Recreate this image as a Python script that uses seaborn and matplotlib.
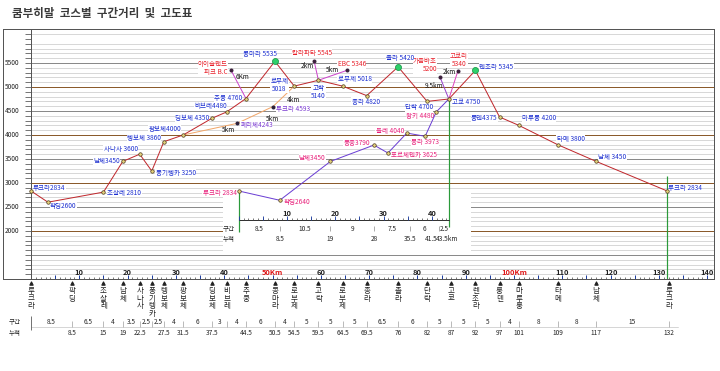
import numpy as np
import matplotlib
matplotlib.use("Agg")
import matplotlib.pyplot as plt
import matplotlib.transforms as mtransforms
from matplotlib.patches import Rectangle
import seaborn as sns

# ---- 데이터 ----
# 메인 코스: 그래프 위 점 위치(km)와 고도(m)
route_km = [0, 3.5, 15, 19, 22.5, 25, 27.5, 31.5, 37.5, 40.5, 44.5, 50.5, 54.5,
            59.5, 64.5, 69.5, 76, 82, 86.5, 92, 97, 101, 109, 117, 131.7]
route_elev = [2834, 2600, 2810, 3450, 3600, 3250, 3860, 4000, 4350, 4480, 4760, 5535,
              5018, 5140, 5018, 4820, 5420, 4700, 4750, 5345, 4375, 4200, 3800, 3450, 2834]
route_labels = ["루크라2834", "팍딩2600", "조살레 2810", "남체3450", "사나사 3600",
                "퐁기텡카 3250", "텡보체 3860", "팡보체4000", "딩보체 4350", "비브레4480",
                "추쿵 4760", "콩마라 5535", "로부제\n5018", "고락\n5140", "로부제 5018",
                "종라 4820", "촐라 5420", "단락 4700", "고쿄 4750", "렌조라 5345",
                "룽덴4375", "마루룽 4200", "타메 3800", "남체 3450", "루크라 2834"]
pass_names = ["콩마라", "촐라", "렌조라"]
pass_idx = [11, 16, 19]

# 아래쪽 지명 / 구간거리 / 누적거리
stations = ["루크라", "팍딩", "조살레", "남체", "사나사", "퐁기텡카", "텡보체", "팡보체",
            "딩보체", "비브레", "추쿵", "콩마라", "로부제", "고락", "로부제", "종라", "촐라",
            "단락", "고쿄", "렌조라", "룽덴", "마루룽", "타메", "남체", "루크라"]
cum_km = [0, 8.5, 15, 19, 22.5, 25, 27.5, 31.5, 37.5, 40.5, 44.5, 50.5, 54.5, 59.5,
          64.5, 69.5, 76, 82, 87, 92, 97, 101, 109, 117, 132]
section_km = [8.5, 6.5, 4, 3.5, 2.5, 2.5, 4, 6, 3, 4, 6, 4, 5, 5, 5, 6.5, 6, 5, 5, 5,
              4, 8, 8, 15]
cum_labels = ["", "8.5", "15", "19", "22.5", "", "27.5", "31.5", "37.5", "", "44.5",
              "50.5", "54.5", "59.5", "64.5", "69.5", "76", "82", "87", "92", "97",
              "101", "109", "117", "132"]

# 팡보체 -> 페리체 -> 투크라 -> 로부제 (주황선)
pheriche_km = [31.5, 42.7, 50.1, 54.5]
pheriche_elev = [4000, 4243, 4593, 5018]
pheriche_labels = ["", "페리체4243", "투크라 4593", ""]
pheriche_dist = ["5km", "5km", "4km"]

# 곁가지 봉우리
branch_from = [10, 13, 13, 18, 18]          # route index
branch_km = [41.4, 58.6, 65.4, 84.7, 88.4]
branch_elev = [5350, 5545, 5346, 5200, 5340]
branch_names = ["아이슬랜드\n피크 B.C", "칼라파타 5545", "EBC 5346", "가즘바초\n5200", "고쿄리\n5340"]
branch_dist = ["6Km", "2km", "5km", "9.5km", "2km"]

# 루크라 -> 고쿄 직행 코스 (삽입 그림)
inset_km = [0, 8.5, 19, 28, 30.9, 34.8, 38.6, 40.9, 43.5]
inset_elev = [2834, 2640, 3450, 3790, 3625, 4040, 3973, 4480, 4750]
inset_labels = ["루크라 2834", "팍딩2640", "남체3450", "퐁중3790", "포르체텐카 3625",
                "돌레 4040", "몽라 3973", "왕키 4480", ""]
inset_section = [8.5, 10.5, 9, 7.5, 6, 2.5]
inset_cum = [8.5, 19, 28, 35.5, 41.5, 43.5]
inset_cum_labels = ["8.5", "19", "28", "35.5", "41.5", "43.5km"]
INSET_OFF = 43.0

# ---- 스타일 ----
sns.set_theme(style="white")
plt.rcParams["font.family"] = ["Noto Sans CJK KR", "DejaVu Sans"]

BLUE = "#1c2fd0"
RED = "#e8202a"
PINK = "#e8207a"
PURPLE = "#7a3ad0"
LINE_RED = "#c0282d"
GREEN = "#2a9a3a"
box = dict(boxstyle="square,pad=0.05", fc="white", ec="none")

fig = plt.figure(figsize=(10, 371 / 72), dpi=72)
ax = fig.add_axes([3 / 720, 92 / 371, 711 / 720, 250 / 371])
ax.set_xlim(-5.80, 141.4)
ax.set_ylim(1000, 6208)
for s in ax.spines.values():
    s.set_color("#555555")
    s.set_linewidth(1)
ax.set_yticks([])

# 격자선
light = [e for e in range(1100, 6201, 100) if e % 500 != 0]
ax.hlines(light, 0, 141.4, color="#cfcfcf", lw=0.8, zorder=1)
ax.hlines([1500, 2500, 3500, 4500, 5500], 0, 141.4, color="#8a8a8a", lw=1, zorder=1)
ax.hlines([2000, 3000, 4000, 5000], 0, 141.4, color="#8b5a2b", lw=1, zorder=1)

# y 축
ax.axvline(0, color="#555555", lw=1, zorder=2)
ax.hlines(range(1100, 6201, 100), -1.25, 0, color="#555555", lw=0.8, zorder=2)
for e in range(2000, 5501, 500):
    ax.text(-3.9, e, str(e), ha="center", va="center", fontsize=6.5, color="#222222")

# x 축 눈금
ax.set_xticks(np.arange(0, 141, 5))
ax.set_xticks(np.arange(0, 141, 1), minor=True)
ax.tick_params(axis="x", which="major", direction="in", length=4, width=1,
               color="#1f3f9f", labelbottom=False, bottom=True)
ax.tick_params(axis="x", which="minor", direction="in", length=2, width=0.7,
               color="#444444", bottom=True)
for k in range(10, 141, 10):
    if k in (50, 100):
        ax.text(k, 1125, f"{k}Km", ha="center", va="center", fontsize=7.5,
                fontweight="bold", color="#e01818")
    else:
        ax.text(k, 1125, str(k), ha="center", va="center", fontsize=7.5,
                fontweight="bold", color="#222222")

# 삽입 그림 배경
ax.add_patch(Rectangle((39.76, 1550), 91.1 - 39.76, 2850 - 1550, fc="white",
                       ec="none", zorder=1.5))

# 녹색 세로선
ax.vlines(INSET_OFF + inset_km[0], 1980, inset_elev[0], color=GREEN, lw=1.2, zorder=3)
ax.vlines(route_km[18], 2090, route_elev[18], color=GREEN, lw=1.2, zorder=3)
ax.vlines(route_km[-1], 1000, 3150, color=GREEN, lw=1.2, zorder=3)

# 주황선 (페리체 경유)
sns.lineplot(x=pheriche_km, y=pheriche_elev, ax=ax, color="#f2a76a", lw=1,
             estimator=None, sort=False, zorder=4)
ax.plot(pheriche_km[1:3], pheriche_elev[1:3], "o", ms=3, color="#2a1f3a", zorder=6)
for k, e, lab in zip(pheriche_km, pheriche_elev, pheriche_labels):
    if lab:
        ax.annotate(lab, (k, e), xytext=(3, -2), textcoords="offset points",
                    ha="left", va="center", fontsize=6.5, color=PURPLE, bbox=box, zorder=4)
dist_off = [(-9, -7), (-1, -12), (-1, -14)]
for i, lab in enumerate(pheriche_dist):
    ax.annotate(lab, (pheriche_km[i + 1], pheriche_elev[i + 1]), xytext=dist_off[i],
                textcoords="offset points", ha="center", va="center", fontsize=6.5,
                color="#111111", zorder=4)

# 곁가지
branch_colors = ["#cc44cc", "#cc44cc", "#cc44cc", "#9944cc", "#e044c0"]
name_style = [(-3, 2.5, "right"), (-2, 7.5, "center"), (5, 6, "center"),
              (-3, 12, "right"), (1, 11, "center")]
dist_style = [(11.5, -7), (-7, -5), (-14.5, 0), (-6.5, -8.6), (-8.5, -1.3)]
for i in range(len(branch_km)):
    j = branch_from[i]
    sns.lineplot(x=[route_km[j], branch_km[i]], y=[route_elev[j], branch_elev[i]],
                 ax=ax, color=branch_colors[i], lw=1, estimator=None, sort=False, zorder=4)
    ax.plot(branch_km[i], branch_elev[i], "o", ms=3, color="#3a1f3a", zorder=6)
    dx, dy, ha = name_style[i]
    ax.annotate(branch_names[i], (branch_km[i], branch_elev[i]), xytext=(dx, dy),
                textcoords="offset points", ha=ha, va="center", multialignment=ha,
                fontsize=6.5, color=RED, bbox=box, linespacing=1.0, zorder=4)
    dx, dy = dist_style[i]
    ax.annotate(branch_dist[i], (branch_km[i], branch_elev[i]), xytext=(dx, dy),
                textcoords="offset points", ha="center", va="center", fontsize=6.5,
                color="#111111", zorder=4)

# 메인 코스
sns.lineplot(x=route_km, y=route_elev, ax=ax, color=LINE_RED, lw=1,
             estimator=None, sort=False, zorder=5)
ax.plot(route_km, route_elev, "o", ms=3.5, mfc="#e6d27a", mec="#4a3a20", mew=0.7, zorder=6)
ax.plot([route_km[i] for i in pass_idx], [route_elev[i] for i in pass_idx], "o", ms=6,
        mfc="#2fd06a", mec="#1a9a4a", mew=0.8, zorder=7)
main_style = [(2, 3, "left"), (2, -4, "left"), (4, -1, "left"), (-3, 0, "right"),
              (-2, 5, "right"), (4, -2, "left"), (-3, 4, "right"), (-2, 6, "right"),
              (-3, 0, "right"), (0, 6, "right"), (-4, 1, "right"), (2, 7, "right"),
              (-6, 1, "right"), (0, -12, "center"), (-5, 7, "left"), (-1, -6, "center"),
              (2, 9, "center"), (-8, -6, "center"), (3, -3, "left"), (4, 3, "left"),
              (-2, -1, "right"), (3, 7, "left"), (-1, 6, "left"), (2, 4, "left"),
              (1, 3, "left")]
for k, e, lab, (dx, dy, ha) in zip(route_km, route_elev, route_labels, main_style):
    ax.annotate(lab, (k, e), xytext=(dx, dy), textcoords="offset points", ha=ha,
                va="center", multialignment="center", fontsize=6.5, color=BLUE,
                bbox=box, linespacing=1.0, zorder=4)

# 삽입 코스 (루크라 -> 고쿄)
inset_x = [INSET_OFF + k for k in inset_km]
sns.lineplot(x=inset_x, y=inset_elev, ax=ax, color="#6b3fd4", lw=1,
             estimator=None, sort=False, zorder=5)
ax.plot(inset_x[:-1], inset_elev[:-1], "o", ms=3.5, mfc="#e6d27a", mec="#4a3a20",
        mew=0.7, zorder=6)
inset_style = [(-2, -2, "right"), (4, -2, "left"), (-5, 3, "right"), (-4, 2, "right"),
               (3, -2, "left"), (-3, 2, "right"), (0, -6, "center"), (-2, -4, "right"),
               (0, 0, "left")]
for k, e, lab, (dx, dy, ha) in zip(inset_x, inset_elev, inset_labels, inset_style):
    if lab:
        ax.annotate(lab, (k, e), xytext=(dx, dy), textcoords="offset points", ha=ha,
                    va="center", fontsize=6.5, color=PINK, bbox=box, zorder=4)

# 삽입 그림의 축
AX_E = 2230
ax.plot([INSET_OFF, INSET_OFF + inset_cum[-1]], [AX_E, AX_E], color="#333333", lw=1, zorder=3)
ax.vlines(INSET_OFF + np.arange(0, 44, 1), AX_E, AX_E + 45, color="#444444", lw=0.7, zorder=3)
ax.vlines(INSET_OFF + np.arange(0, 44, 5), AX_E, AX_E + 85, color="#1f3f9f", lw=0.9, zorder=3)
for k in range(10, 41, 10):
    ax.text(INSET_OFF + k, 2370, str(k), ha="center", va="center", fontsize=7.5,
            fontweight="bold", color="#222222", zorder=3)
# 누적 라벨 위치 보정 (끝부분이 붙어 있음)
cum_nudge = [(0, "center"), (0, "center"), (0, "center"), (0, "center"),
             (-1.6, "center"), (-2.6, "left")]
prev = 0
for sec, c, lab, (nx, ha) in zip(inset_section, inset_cum, inset_cum_labels, cum_nudge):
    ax.text(INSET_OFF + (prev + c) / 2, 2042, f"{sec:g}", ha="center", va="center",
            fontsize=6.5, color="#222222", zorder=3)
    ax.text(INSET_OFF + c + nx, 1834, lab, ha=ha, va="center", fontsize=6.5,
            color="#222222", zorder=3)
    prev = c
ax.vlines([INSET_OFF + c for c in inset_cum[:-1]], 1990, 2100, color="#999999", lw=0.8, zorder=3)
ax.text(41.0, 2042, "구간", ha="center", va="center", fontsize=6.5, color="#222222", zorder=3)
ax.text(41.0, 1834, "누적", ha="center", va="center", fontsize=6.5, color="#222222", zorder=3)

# 아래쪽 지명, 구간, 누적
blend = mtransforms.blended_transform_factory(ax.transData, fig.transFigure)
ax.plot(cum_km, [0.2372] * len(cum_km), ls="none", marker="^", ms=3.5, color="#222222",
        transform=blend, clip_on=False)
for k, name in zip(cum_km, stations):
    ax.text(k, 0.2264, "\n".join(name), transform=blend, ha="center", va="top",
            fontsize=7.5, linespacing=0.95, color="#222222")
for i, sec in enumerate(section_km):
    ax.text((cum_km[i] + cum_km[i + 1]) / 2, 0.132, f"{sec:g}", transform=blend,
            ha="center", va="center", fontsize=6.5, color="#222222")
for k, lab in zip(cum_km, cum_labels):
    if lab:
        ax.text(k, 0.1024, lab, transform=blend, ha="center", va="center",
                fontsize=6.5, color="#222222")
ax.plot([0, 134], [0.1186, 0.1186], transform=blend, color="#cccccc", lw=0.8, clip_on=False)
ax.vlines(cum_km[1:], 0.1186, 0.135, transform=blend, color="#aaaaaa", lw=0.8, clip_on=False)
ax.vlines([0], 0.110, 0.148, transform=blend, color="#666666", lw=0.9, clip_on=False)
ax.text(-3.3, 0.132, "구간", transform=blend, ha="center", va="center", fontsize=6.5, color="#222222")
ax.text(-3.3, 0.1024, "누적", transform=blend, ha="center", va="center", fontsize=6.5, color="#222222")

fig.text(12 / 720, 1 - 13 / 371, "쿰부히말  코스별  구간거리  및  고도표", fontsize=11.5,
         fontweight="bold", color="#3a3a3a", va="center", ha="left")

fig.savefig("out.png", dpi=72)
